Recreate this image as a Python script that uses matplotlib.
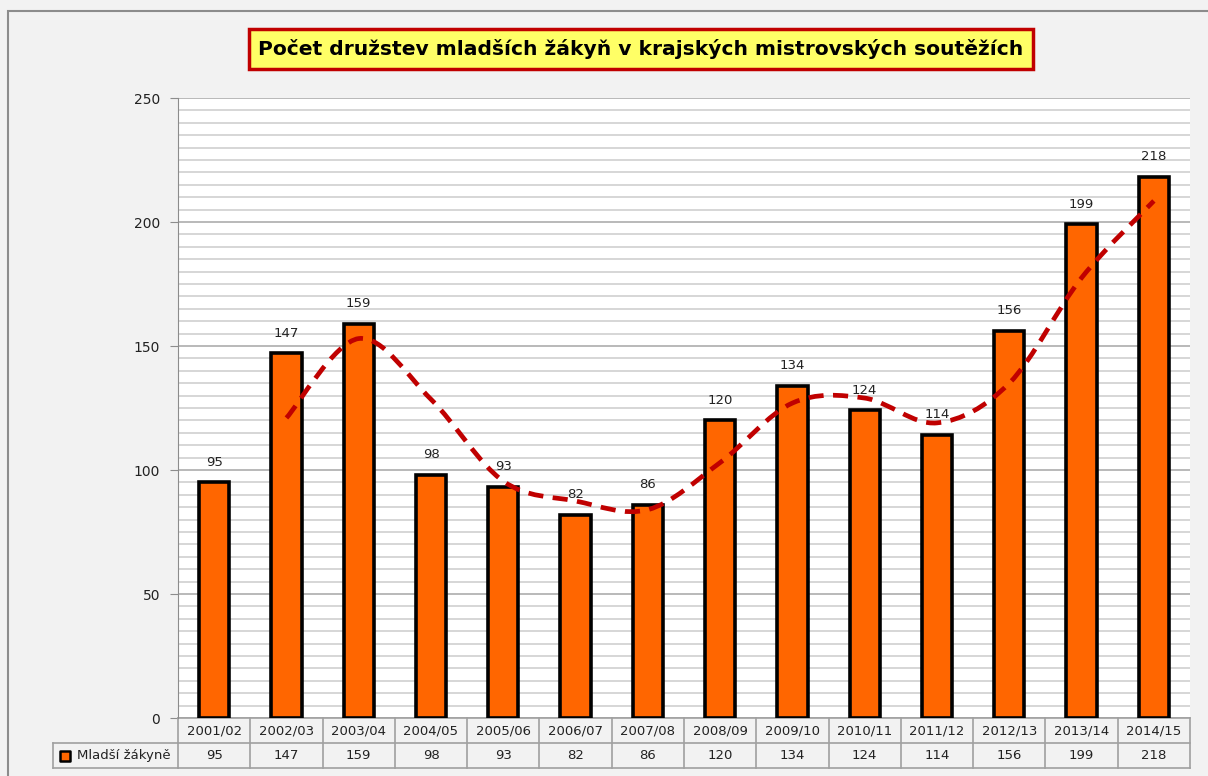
import matplotlib
matplotlib.use("Agg")
import matplotlib.pyplot as plt
from matplotlib.path import Path
from matplotlib.patches import PathPatch, Rectangle
import numpy as np

# data
seasons = ["2001/02", "2002/03", "2003/04", "2004/05", "2005/06", "2006/07", "2007/08",
           "2008/09", "2009/10", "2010/11", "2011/12", "2012/13", "2013/14", "2014/15"]
teams = [95, 147, 159, 98, 93, 82, 86, 120, 134, 124, 114, 156, 199, 218]
series_name = "Mladší žákyně"
title = "Počet družstev mladších žákyň v krajských mistrovských soutěžích"

bar_color = "#ff6600"
trend_color = "#c00000"
bg = "#f2f2f2"
grid_major = "#a6a6a6"
grid_minor = "#cccccc"
table_line = "#a0a0a0"

plt.rcParams["font.family"] = ["DejaVu Sans"]

fig = plt.figure(figsize=(12.08, 7.76), dpi=100, facecolor=bg)
W, H = 1208, 776

# outer border of the chart frame
fig.patches.append(Rectangle((8 / W, -0.05), 1.2, (H - 11) / H + 0.05, transform=fig.transFigure,
                             fill=False, edgecolor="#8c8c8c", linewidth=1.5))

ax = fig.add_axes([178 / W, 1 - 718 / H, (1190 - 178) / W, (718 - 98) / H])
ax.set_facecolor("white")

n = len(seasons)
x = np.arange(n)
ax.set_xlim(-0.5, n - 0.5)
ax.set_ylim(0, 250)

# gridlines
ax.set_yticks(np.arange(0, 251, 50))
ax.set_yticks(np.arange(0, 251, 5), minor=True)
ax.grid(which="minor", axis="y", color=grid_minor, linewidth=1.1)
ax.grid(which="major", axis="y", color=grid_major, linewidth=1.1)
ax.set_axisbelow(True)
ax.tick_params(axis="y", which="minor", length=0)
ax.tick_params(axis="y", which="major", length=6, color="#8c8c8c", labelsize=10,
               labelcolor="#222222", pad=7)
ax.set_xticks([])
for s in ["top", "right", "bottom"]:
    ax.spines[s].set_visible(False)
ax.spines["left"].set_color("#8c8c8c")

# bars
ax.bar(x, teams, width=0.42, color=bar_color, edgecolor="black", linewidth=2.6, zorder=3)
for xi, v in zip(x, teams):
    ax.annotate(str(v), (xi, v), xytext=(0, 10), textcoords="offset points",
                ha="center", va="bottom", fontsize=9.5, color="#222222", zorder=4)

# 2-period moving average trendline, smoothed like Excel (Bezier through points)
ma = [(teams[i - 1] + teams[i]) / 2 for i in range(1, n)]
px = list(x[1:].astype(float))
pts = list(zip(px, ma))
verts = [pts[0]]
codes = [Path.MOVETO]
for i in range(len(pts) - 1):
    p0 = pts[i - 1] if i > 0 else pts[i]
    p1 = pts[i]
    p2 = pts[i + 1]
    p3 = pts[i + 2] if i + 2 < len(pts) else pts[i + 1]
    c1 = (p1[0] + (p2[0] - p0[0]) / 6, p1[1] + (p2[1] - p0[1]) / 6)
    c2 = (p2[0] - (p3[0] - p1[0]) / 6, p2[1] - (p3[1] - p1[1]) / 6)
    verts += [c1, c2, p2]
    codes += [Path.CURVE4] * 3
ax.add_patch(PathPatch(Path(verts, codes), fill=False, edgecolor=trend_color,
                       linewidth=3.4, linestyle=(0, (3.2, 2.0)), capstyle="butt", zorder=5))

# data table under the plot
row_h = 25 / (718 - 98)
trans = ax.get_xaxis_transform()
kw = dict(transform=trans, clip_on=False, color=table_line, linewidth=1.2)
# horizontal lines of the category part
for k in (0, 1, 2):
    ax.plot([-0.5, n - 0.5], [-k * row_h] * 2, **kw)
# vertical lines
for b in np.arange(-0.5, n, 1.0):
    ax.plot([b, b], [0, -2 * row_h], **kw)
# legend cell
cat_w = (1190 - 178) / n
left_x = -0.5 - (178 - 53) / cat_w
ax.plot([left_x, -0.5], [-row_h, -row_h], **kw)
ax.plot([left_x, -0.5], [-2 * row_h, -2 * row_h], **kw)
ax.plot([left_x, left_x], [-row_h, -2 * row_h], **kw)
for xi, s, v in zip(x, seasons, teams):
    ax.text(xi, -0.5 * row_h, s, transform=trans, ha="center", va="center",
            fontsize=9.5, color="#222222")
    ax.text(xi, -1.5 * row_h, str(v), transform=trans, ha="center", va="center",
            fontsize=9.5, color="#222222")
ax.scatter([left_x + 12 / cat_w], [-1.5 * row_h], transform=trans, marker="s", s=55,
           color=bar_color, edgecolor="black", linewidth=1.8, clip_on=False, zorder=6)
ax.text(left_x + 24 / cat_w, -1.5 * row_h, series_name, transform=trans, ha="left",
        va="center", fontsize=9.5, color="#222222")

# title box
fig.text((267 + 1015) / 2 / W, 1 - 49 / H, title, ha="center", va="center",
         fontsize=14.6, fontweight="bold", color="black",
         bbox=dict(boxstyle="square,pad=0.48", facecolor="#ffff66", edgecolor="#c00000",
                   linewidth=2.5))

fig.savefig("out.png", dpi=100, facecolor=bg)
